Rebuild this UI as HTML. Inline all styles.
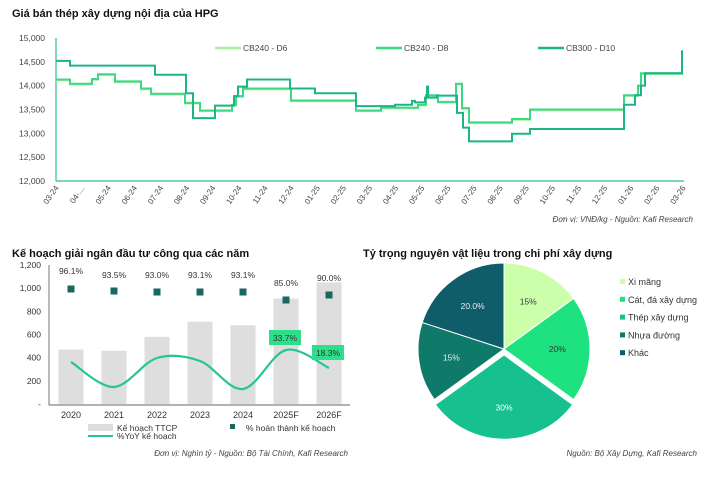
<!DOCTYPE html>
<html><head><meta charset="utf-8">
<style>
body{margin:0;background:#fff;}
svg{display:block;font-family:"Liberation Sans",sans-serif;}
</style></head>
<body>
<svg id="s" width="714" height="479" viewBox="0 0 714 479" xmlns="http://www.w3.org/2000/svg">
<rect width="714" height="479" fill="#fff"/>
<text x="12" y="17" font-size="11" font-weight="bold" fill="#111">Giá bán thép xây dựng nội địa của HPG</text>
<g id="topc" font-size="8.5" fill="#444"></g>
<text x="693" y="222" font-size="8" font-style="italic" fill="#444" text-anchor="end">Đơn vị: VNĐ/kg - Nguồn: Kafi Research</text>

<text x="12" y="257" font-size="11" font-weight="bold" fill="#111">Kế hoạch giải ngân đầu tư công qua các năm</text>
<g id="bl" font-size="8.5" fill="#333"></g>
<text x="348" y="456" font-size="8" font-style="italic" fill="#444" text-anchor="end">Đơn vị: Nghìn tỷ - Nguồn: Bộ Tài Chính, Kafi Research</text>

<text x="363" y="257" font-size="11" font-weight="bold" fill="#111">Tỷ trọng nguyên vật liệu trong chi phí xây dựng</text>
<g id="pie" font-size="8.5"></g>
<text x="697" y="456" font-size="8" font-style="italic" fill="#444" text-anchor="end">Nguồn: Bộ Xây Dựng, Kafi Research</text>
</svg>
<script>
(function(){
var NS="http://www.w3.org/2000/svg";
function el(p,t,a,txt){var e=document.createElementNS(NS,t);for(var k in a)e.setAttribute(k,a[k]);if(txt!=null)e.textContent=txt;p.appendChild(e);return e;}
var tc=document.getElementById('topc');
function Y(v){return 38+(15000-v)*143/3000;}
function fmt(v){return v>=1000?Math.floor(v/1000)+','+String(v%1000).padStart(3,'0'):String(v);}
for(var v=12000;v<=15000;v+=500){el(tc,'text',{x:45,y:Y(v)+3,'text-anchor':'end'},fmt(v));}
el(tc,'line',{x1:56,y1:38,x2:56,y2:181,stroke:'#2bbf85','stroke-width':1.2});
el(tc,'line',{x1:56,y1:181,x2:684,y2:181,stroke:'#2bbf85','stroke-width':1.2});
var labs=['03-24','04-…','05-24','06-24','07-24','08-24','09-24','10-24','11-24','12-24','01-25','02-25','03-25','04-25','05-25','06-25','07-25','08-25','09-25','10-25','11-25','12-25','01-26','02-26','03-26'];
for(var i=0;i<25;i++){var x=56+i*627/24;el(tc,'text',{x:x+3,y:188,'text-anchor':'end',transform:'rotate(-55 '+(x+3)+' 188)','font-size':'8'},labs[i]);}
function step(d){var s='M'+d[0][0]+' '+Y(d[0][1]);for(var i=1;i<d.length;i++){s+=' H'+d[i][0]+' V'+Y(d[i][1]);}return s;}
var d10=[[56,14520],[70,14420],[155,14230],[186,13840],[193,13320],[215,13580],[234,13780],[238,13980],[247,14130],[290,13940],[315,13840],[356,13570],[395,13600],[412,13680],[415,13650],[425,13750],[427,13980],[428,13750],[437,13790],[457,13430],[463,13120],[469,12830],[512,12990],[530,13090],[624,13600],[635,13800],[641,14000],[645,14260],[682,14720],[683,14720]];
var d8=[[56,14130],[70,14040],[92,14140],[98,14240],[115,14090],[141,13940],[151,13830],[185,13640],[200,13480],[232,13600],[236,13780],[243,13940],[291,13690],[356,13480],[381,13540],[418,13600],[426,13800],[438,13660],[456,14040],[462,13530],[469,13230],[512,13300],[530,13500],[624,13800],[638,14000],[641,14260],[682,14720],[683,14720]];
var d6=d8.map(function(p){return [p[0],p[1]-15];});
el(tc,'path',{d:step(d6),fill:'none',stroke:'#a6f0a0','stroke-width':2});
el(tc,'path',{d:step(d8),fill:'none',stroke:'#3dd882','stroke-width':2});
el(tc,'path',{d:step(d10),fill:'none',stroke:'#1db585','stroke-width':2});
var lg=[[215,'#a6f0a0','CB240 - D6'],[376,'#3dd882','CB240 - D8'],[538,'#1db585','CB300 - D10']];
lg.forEach(function(l){el(tc,'line',{x1:l[0],y1:48,x2:l[0]+26,y2:48,stroke:l[1],'stroke-width':2.5});el(tc,'text',{x:l[0]+28,y:51},l[2]);});
var bl=document.getElementById('bl');
function B(v){return 404-v*139/1200;}
for(var v=0;v<=1200;v+=200){el(bl,'text',{x:41,y:B(v)+3,'text-anchor':'end'},v==0?'-':fmt(v));}
var cats=['2020','2021','2022','2023','2024','2025F','2026F'],vals=[470,460,580,710,680,910,1050];
var pcts=['96.1%','93.5%','93.0%','93.1%','93.1%','85.0%','90.0%'],sq=[289,291,292,292,292,300,295],ly=[274,278,278,278,278,286,281];
var lineY=[362,387,358,361,389,350,368];
for(var i=0;i<7;i++){var cx=71+i*43;
el(bl,'rect',{x:cx-12.5,y:B(vals[i]),width:25,height:404-B(vals[i]),fill:'#dedede'});
el(bl,'rect',{x:cx-3.5,y:sq[i]-3.5,width:7,height:7,fill:'#17695c'});
el(bl,'text',{x:cx,y:ly[i],'text-anchor':'middle'},pcts[i]);
el(bl,'text',{x:cx,y:418,'text-anchor':'middle','font-size':'9'},cats[i]);}
el(bl,'line',{x1:49,y1:265,x2:49,y2:405,stroke:'#666','stroke-width':0.9});
el(bl,'line',{x1:49,y1:405,x2:350,y2:405,stroke:'#666','stroke-width':0.9});
var pts=lineY.map(function(y,i){return [71+i*43,y];});
var p='M'+pts[0][0]+' '+pts[0][1];
for(var i=0;i<pts.length-1;i++){var p0=pts[Math.max(0,i-1)],p1=pts[i],p2=pts[i+1],p3=pts[Math.min(pts.length-1,i+2)];
p+=' C'+(p1[0]+(p2[0]-p0[0])/6)+' '+(p1[1]+(p2[1]-p0[1])/6)+' '+(p2[0]-(p3[0]-p1[0])/6)+' '+(p2[1]-(p3[1]-p1[1])/6)+' '+p2[0]+' '+p2[1];}
el(bl,'path',{d:p,fill:'none',stroke:'#26c497','stroke-width':2.2});
el(bl,'rect',{x:269,y:330,width:32,height:15,fill:'#2ddf88'});
el(bl,'text',{x:285,y:341,'text-anchor':'middle'},'33.7%');
el(bl,'rect',{x:312,y:345,width:32,height:15,fill:'#2ddf88'});
el(bl,'text',{x:328,y:356,'text-anchor':'middle'},'18.3%');
el(bl,'rect',{x:88,y:424,width:25,height:7,fill:'#dedede'});
el(bl,'text',{x:117,y:431},'Kế hoạch TTCP');
el(bl,'rect',{x:230,y:424,width:5,height:5,fill:'#17695c'});
el(bl,'text',{x:246,y:431},'% hoàn thành kế hoạch');
el(bl,'line',{x1:88,y1:436,x2:113,y2:436,stroke:'#26c497','stroke-width':2});
el(bl,'text',{x:117,y:439},'%YoY kế hoạch');
var pie=document.getElementById('pie');
var cx=504,cy=349,r=86;
var sl=[[0,54,'#ccffaa','15%','#333'],[54,126,'#1de27f','20%','#333'],[126,234,'#16c18f','30%','#fff'],[234,288,'#107a6a','15%','#eee'],[288,360,'#0f5c6b','20.0%','#eee']];
function P(a,rr,ox,oy){var t=a*Math.PI/180;return [cx+ox+rr*Math.sin(t),cy+oy-rr*Math.cos(t)];}
sl.forEach(function(s){var ox=0,oy=0;if(s[3]=='30%'){oy=5;}
var a=P(s[0],r,ox,oy),b=P(s[1],r,ox,oy);var large=(s[1]-s[0])>180?1:0;
el(pie,'path',{d:'M'+(cx+ox)+' '+(cy+oy)+' L'+a[0]+' '+a[1]+' A'+r+' '+r+' 0 '+large+' 1 '+b[0]+' '+b[1]+' Z',fill:s[2],stroke:'#fff','stroke-width':s[3]=='30%'?2.5:1});
var m=P((s[0]+s[1])/2,r*0.62,ox,oy);el(pie,'text',{x:m[0],y:m[1]+3,'text-anchor':'middle',fill:s[4]},s[3]);});
var ln=[['#ccffaa','Xi măng'],['#1de27f','Cát, đá xây dựng'],['#16c18f','Thép xây dựng'],['#107a6a','Nhựa đường'],['#0f5c6b','Khác']];
ln.forEach(function(l,i){var y=282+i*17.8;el(pie,'rect',{x:620,y:y-3,width:5,height:5,fill:l[0]});el(pie,'text',{x:628,y:y+3,fill:'#333','font-size':'9'},l[1]);});
})();
</script>
</body></html>
